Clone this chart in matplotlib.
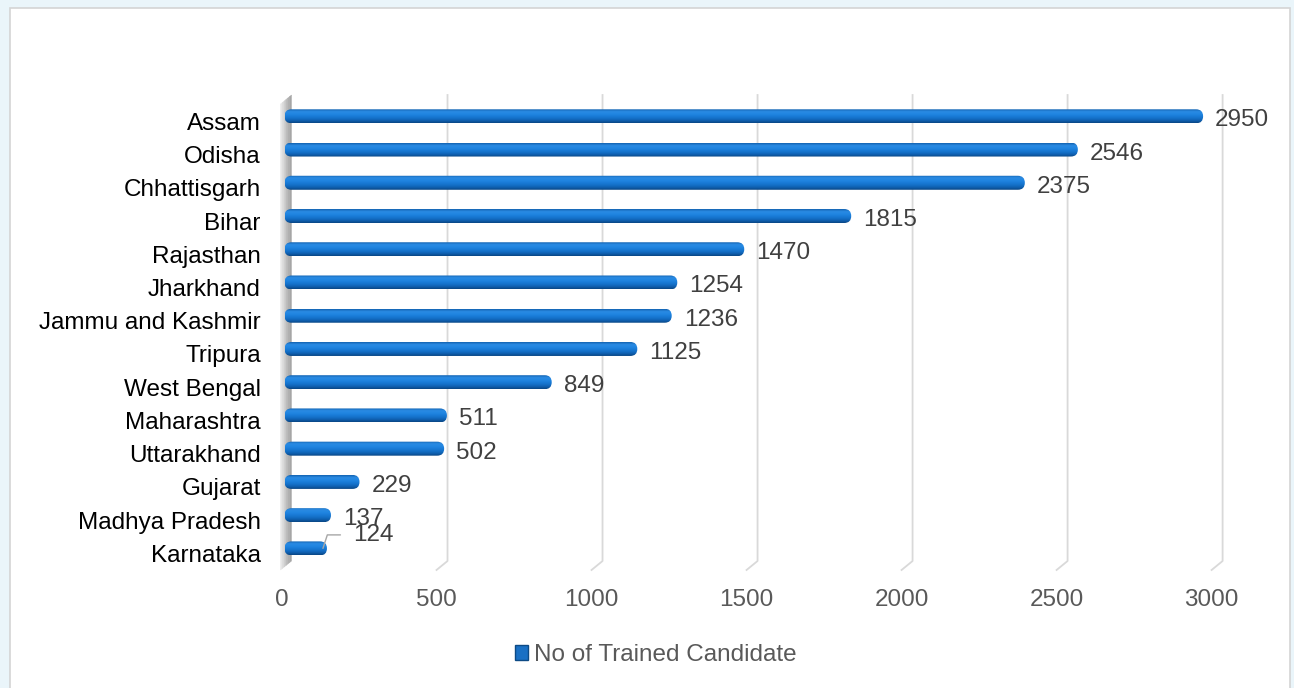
import matplotlib
matplotlib.use("Agg")
import matplotlib.pyplot as plt
import matplotlib.transforms as mtransforms
import numpy as np
from matplotlib.patches import FancyBboxPatch, Polygon, Rectangle, Patch
from matplotlib.colors import LinearSegmentedColormap

# ---------------- data ----------------
states = ["Assam", "Odisha", "Chhattisgarh", "Bihar", "Rajasthan", "Jharkhand",
          "Jammu and Kashmir", "Tripura", "West Bengal", "Maharashtra",
          "Uttarakhand", "Gujarat", "Madhya Pradesh", "Karnataka"]
trained = [2950, 2546, 2375, 1815, 1470, 1254, 1236, 1125, 849, 511, 502, 229, 137, 124]
x_ticks = [0, 500, 1000, 1500, 2000, 2500, 3000]
series_name = "No of Trained Candidate"

# ---------------- style ----------------
W, H, DPI = 1294, 688, 100
FONT = "Liberation Sans"
FS = 17.5
plt.rcParams["font.family"] = [FONT, "DejaVu Sans"]

fig = plt.figure(figsize=(W / DPI, H / DPI), dpi=DPI, facecolor="#eaf5fa")

# white panel with light border
fig.patches.append(Rectangle((10 / W, -0.01), (1290 - 10) / W, 1 - 8 / H + 0.01,
                             transform=fig.transFigure, facecolor="white",
                             edgecolor="#d4d4d4", linewidth=1.2, zorder=-2))

# axes = front plane of the 3D plot
ax_l, ax_r = 281.5, 1211.6
ax_t, ax_b = 104, 570
ax = fig.add_axes([ax_l / W, 1 - ax_b / H, (ax_r - ax_l) / W, (ax_b - ax_t) / H])
ax.set_zorder(2)
ax.set_facecolor("none")
n = len(states)
ypos = np.arange(n)
ax.set_xlim(0, 3000)
ax.set_ylim(n - 1 + 0.65, -0.37)
for s in ax.spines.values():
    s.set_visible(False)

ppx = (ax_r - ax_l) / 3000.0          # pixels per x unit
ppy = (ax_b - ax_t) / (n - 1 + 0.65 + 0.37)  # pixels per row

# depth offset of the back wall (pixels)
DX, DY = 11, 9
grid_c = "#d9d9d9"

def px2fig(pts):
    return [(x / W, 1 - y / H) for x, y in pts]

# gridlines on the back plane with floor diagonals
for t in x_ticks[1:]:
    xf = ax_l + t * ppx
    fig.lines.append(plt.Line2D(*zip(*px2fig([(xf, ax_b), (xf + DX, ax_b - DY),
                                                (xf + DX, ax_t - DY)])),
                                transform=fig.transFigure, color=grid_c,
                                linewidth=1.3, zorder=1))

# left wall (grey gradient in strips)
wall_cols = ["#e6e6e6", "#dadada", "#cccccc", "#bdbdbd", "#b0b0b0", "#a6a6a6"]
ns = len(wall_cols)
for k, c in enumerate(wall_cols):
    a0, a1 = k / ns, (k + 1) / ns
    pts = [(ax_l - 1 + DX * a0, ax_b - DY * a0), (ax_l - 1 + DX * a1, ax_b - DY * a1),
           (ax_l - 1 + DX * a1, ax_t - DY * a1), (ax_l - 1 + DX * a0, ax_t - DY * a0)]
    fig.patches.append(Polygon(px2fig(pts), closed=True, transform=fig.transFigure,
                               facecolor=c, edgecolor=c, linewidth=0.3, zorder=1))

# bars
bar_h = 14 / ppy
bars = ax.barh(ypos, trained, height=bar_h, color="#1a78d0", zorder=3)
cmap = LinearSegmentedColormap.from_list(
    "cyl", ["#1262b0", "#2a8ae2", "#2287e2", "#1a7cd8", "#1470c8", "#0f5fae", "#0a4683"])
grad = np.linspace(0, 1, 64).reshape(-1, 1)
r_x = 7 / ppx
asp = (1 / ppy) / (1 / ppx)
for b in bars:
    b.set_visible(False)
    x0 = b.get_x() + 3 / ppx
    w = b.get_width() + 7 / ppx - x0
    y0 = b.get_y()
    h = b.get_height()
    box = FancyBboxPatch((x0, y0), w, h,
                         boxstyle=f"round,pad=0,rounding_size={r_x * 0.999}",
                         mutation_aspect=asp, transform=ax.transData,
                         facecolor="none", edgecolor="none")
    ax.add_patch(box)
    im = ax.imshow(grad, extent=(x0, x0 + w, y0 + h, y0), aspect="auto",
                   cmap=cmap, origin="upper", zorder=3, interpolation="bilinear")
    im.set_clip_path(box)
ax.set_xlim(0, 3000)
ax.set_ylim(n - 1 + 0.65, -0.37)
ax.set_aspect("auto")

# value labels
for i, v in enumerate(trained):
    if states[i] == "Karnataka":
        ax.annotate(str(v), xy=(v + 3 / ppx, i), xytext=(30 / 1.389, 13.5 / 1.389),
                    textcoords="offset points", va="center", ha="left",
                    fontsize=FS, color="#404040", annotation_clip=False,
                    arrowprops=dict(arrowstyle="-", color="#a6a6a6", lw=1.0,
                                    connectionstyle="angle,angleA=0,angleB=72,rad=0",
                                    relpos=(0, 0.5), shrinkA=7, shrinkB=0))
    else:
        ax.annotate(str(v), xy=(v, i), xytext=(19 / 1.389, -4 / 1.389),
                    textcoords="offset points", va="center", ha="left",
                    fontsize=FS, color="#404040", annotation_clip=False)

# ticks
ax.set_yticks(ypos)
ax.set_yticklabels(states, fontsize=FS, color="#000000")
ax.set_xticks(x_ticks)
ax.set_xticklabels([str(t) for t in x_ticks], fontsize=FS, color="#595959")
ax.tick_params(axis="both", length=0)
ax.tick_params(axis="y", pad=15)
ax.tick_params(axis="x", pad=14)
off = mtransforms.ScaledTranslation(0, -5 / DPI, fig.dpi_scale_trans)
for lab in ax.get_yticklabels():
    lab.set_transform(lab.get_transform() + off)

# legend
fig.legend(handles=[Patch(facecolor="#1a70c4", edgecolor="#0d4a85", label=series_name)],
           loc="center", bbox_to_anchor=(656 / W, 1 - 655 / H), frameon=False,
           fontsize=FS, labelcolor="#595959", handlelength=0.55, handleheight=0.55,
           handletextpad=0.25, borderpad=0)

fig.savefig("out.png", dpi=DPI, facecolor=fig.get_facecolor())
